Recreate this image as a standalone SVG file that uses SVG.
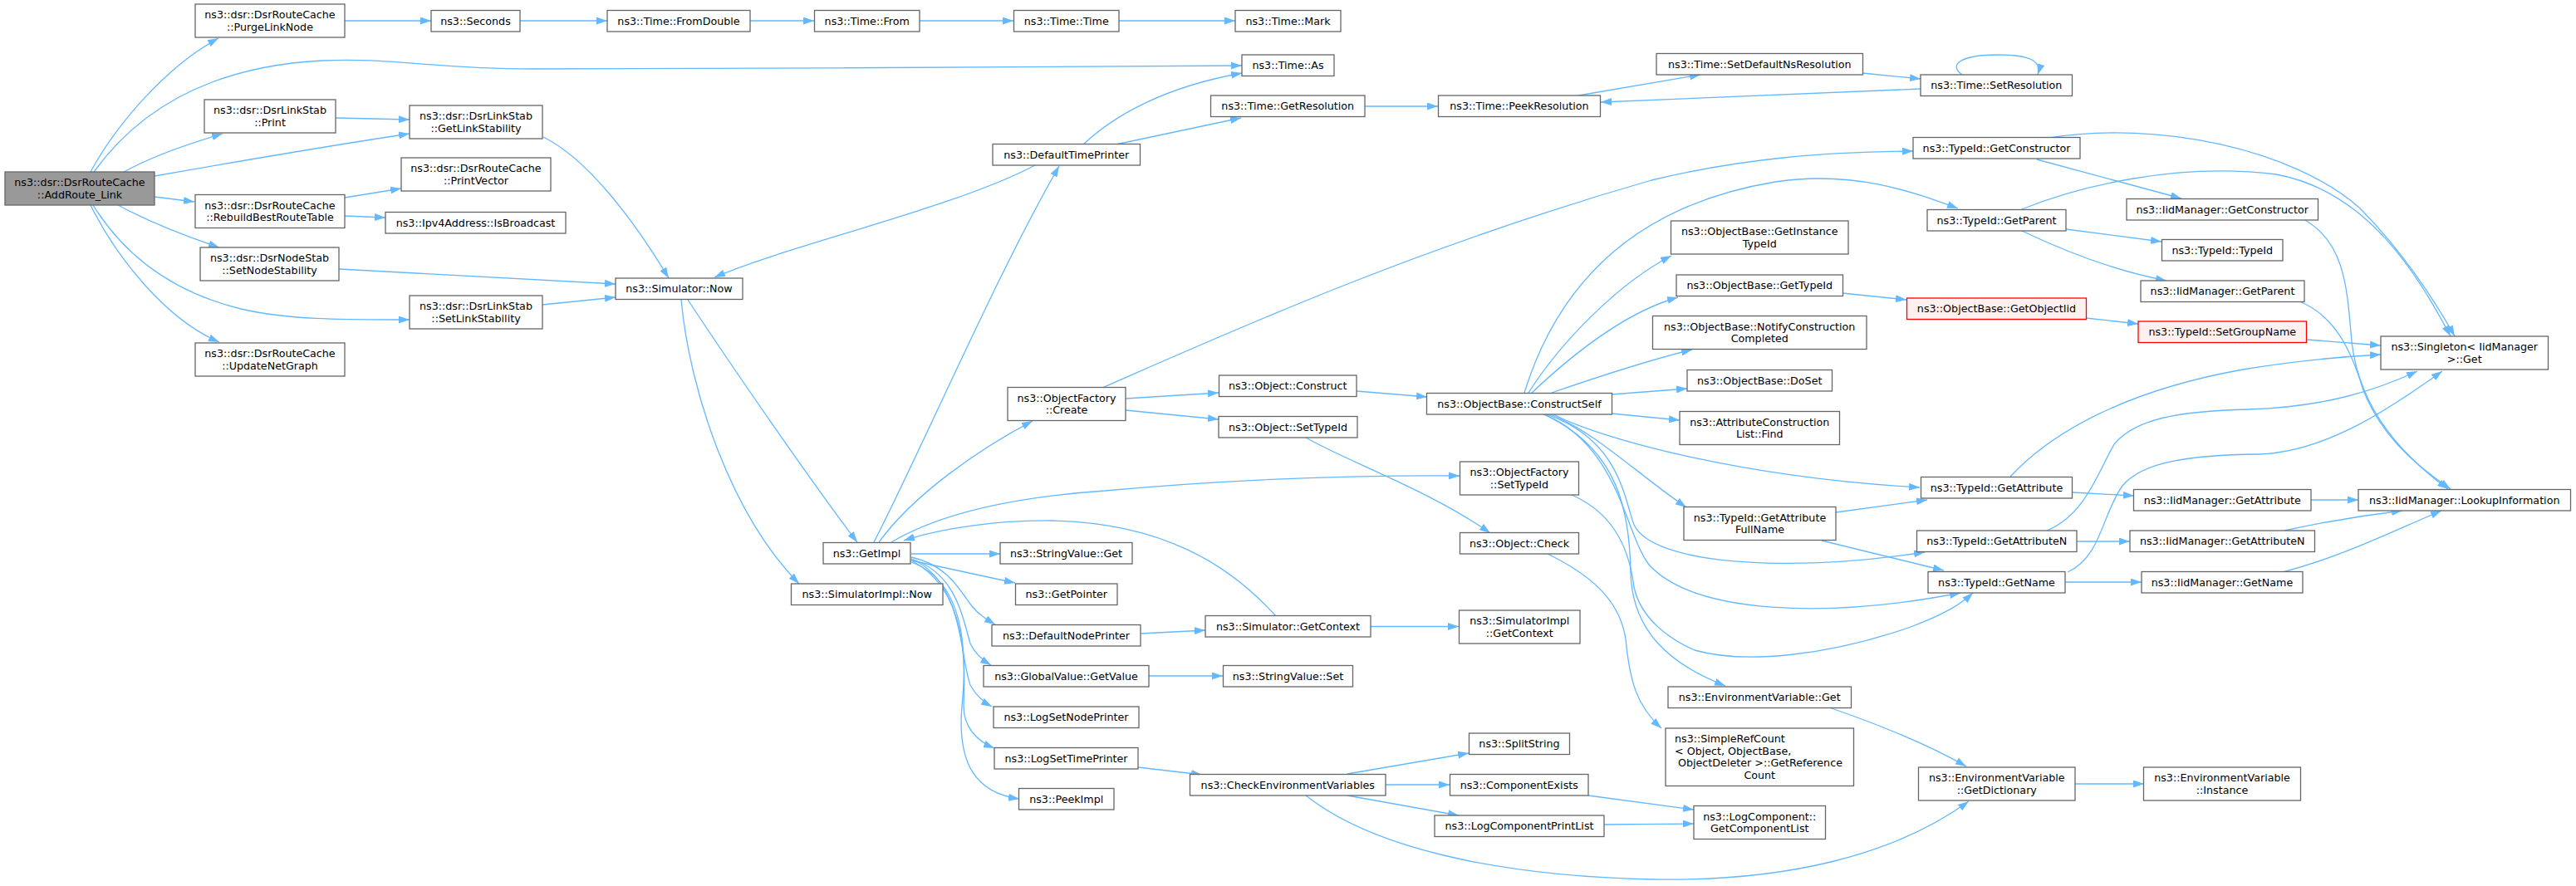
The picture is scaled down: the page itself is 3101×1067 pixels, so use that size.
<svg xmlns="http://www.w3.org/2000/svg" width="3101" height="1067" viewBox="0 0 3101 1067">
<defs>
<marker id="arr" viewBox="0 0 13 9" refX="13" refY="4.5" markerWidth="13" markerHeight="9" markerUnits="userSpaceOnUse" orient="auto">
<path d="M0,0 L13,4.5 L0,9 z" fill="#63b8ff"/>
</marker>
<style>
.node rect{fill:#ffffff;stroke:#666666;stroke-width:1.3}
.root rect{fill:#999999}
.red rect{fill:#fff0f0;stroke:#ff0000}
text{font-family:"DejaVu Sans",sans-serif;font-size:12.7px;text-anchor:middle;fill:#000000}
text.l{text-anchor:start}
#edges path{fill:none;stroke:#63b8ff;stroke-width:1.3;marker-end:url(#arr)}
</style>
</defs>
<rect width="3101" height="1067" fill="#ffffff"/>
<g id="edges">
<path d="M109,207 C140,150 200,80 263,46"/>
<path d="M113,207 C165,135 250,80 388,73 C470,69 520,83 640,83 C900,83 1300,80 1495,79"/>
<path d="M149,207 C180,190 220,175 268,161"/>
<path d="M186,212 C300,192 400,175 493,161"/>
<path d="M186,237 L234,243"/>
<path d="M142,247 C170,262 210,280 264,298"/>
<path d="M112,247 C145,300 200,350 290,372 C350,386 420,385 493,385"/>
<path d="M109,247 C140,310 200,385 264,412"/>
<path d="M404,142 L493,144"/>
<path d="M415,25 L519,25"/>
<path d="M626,25 L731,25"/>
<path d="M903,25 L980,25"/>
<path d="M1107,25 L1220,25"/>
<path d="M1347,25 L1487,25"/>
<path d="M654,165 C705,190 760,260 805,335"/>
<path d="M415,238 L483,227"/>
<path d="M415,260 L464,262"/>
<path d="M408,324 L741,342"/>
<path d="M653,367 L741,358"/>
<path d="M828,361 C880,440 980,585 1032,653"/>
<path d="M820,361 C830,470 880,620 962,703"/>
<path d="M1246,199 C1150,250 950,295 860,334"/>
<path d="M1052,653 C1110,540 1200,330 1275,200"/>
<path d="M1058,653 C1100,595 1180,540 1243,507"/>
<path d="M1073,653 C1120,625 1200,600 1330,591 C1450,580 1600,572 1757,573"/>
<path d="M1536,742 C1480,680 1400,630 1267,627 C1200,626 1130,637 1088,651"/>
<path d="M1097,667 L1204,667"/>
<path d="M1097,675 L1222,702"/>
<path d="M1097,671 C1140,680 1155,710 1170,730 C1178,740 1188,746 1198,752"/>
<path d="M1097,673 C1150,690 1158,740 1168,775 C1174,788 1183,795 1193,801"/>
<path d="M1097,673 C1160,700 1155,790 1168,825 C1175,838 1183,845 1194,851"/>
<path d="M1097,675 C1165,710 1162,800 1160,850 C1160,875 1175,892 1197,901"/>
<path d="M1097,677 C1160,700 1165,780 1158,850 C1152,920 1175,955 1227,962"/>
<path d="M1373,763 L1451,759"/>
<path d="M1383,814 L1472,814"/>
<path d="M1370,924 L1447,933"/>
<path d="M1650,754.5 L1756,754.5"/>
<path d="M1304,174 C1340,140 1400,105 1495,88"/>
<path d="M1343,174 L1494,142"/>
<path d="M1643,128 L1731,128"/>
<path d="M1355,480 L1467,473"/>
<path d="M1355,494 L1467,505"/>
<path d="M1327,467 C1480,400 1700,300 1988,217 C2100,190 2200,183 2303,182"/>
<path d="M1633,471 L1718,478"/>
<path d="M1572,527 C1620,555 1720,590 1794,642"/>
<path d="M1892,596 C1935,615 1960,650 1967,707 C1975,745 2010,770 2040,783 C2100,800 2200,790 2300,755 C2340,740 2360,728 2375,714"/>
<path d="M1863,667 C1910,690 1950,720 1957,770 C1962,820 1970,850 2000,877"/>
<path d="M1835,473 C1870,360 1950,250 2137,219 C2230,205 2300,230 2357,251"/>
<path d="M1840,473 C1880,410 1950,340 2012,308"/>
<path d="M1844,473 C1900,420 1960,375 2020,358"/>
<path d="M1868,473 C1920,455 1980,435 2037,421"/>
<path d="M1940,475 L2031,468"/>
<path d="M1940,498 L2022,506"/>
<path d="M1870,499 C1930,530 2100,575 2311,587"/>
<path d="M1866,499 C1920,520 1970,570 2030,611"/>
<path d="M1862,499 C1950,530 1955,600 1967,632 C1990,680 2150,690 2317,665"/>
<path d="M1860,499 C1950,540 1955,640 1985,680 C2040,740 2200,745 2360,714"/>
<path d="M1858,499 C1950,540 1962,620 1963,690 C1965,760 2010,800 2077,826"/>
<path d="M2218,353 L2295,361"/>
<path d="M2511,383 L2574,390"/>
<path d="M2452,192 L2626,239"/>
<path d="M2487,276 L2602,291"/>
<path d="M2434,278 C2480,300 2540,325 2608,338"/>
<path d="M2467,166 C2600,145 2760,180 2840,250 C2890,300 2930,360 2955,405"/>
<path d="M2434,252 C2500,225 2620,195 2740,210 C2850,230 2910,330 2950,405"/>
<path d="M2777,409 L2866,416"/>
<path d="M2420,574 C2470,520 2560,470 2700,445 C2760,435 2810,430 2866,427"/>
<path d="M2464,639 C2510,620 2525,570 2545,535 C2570,505 2620,495 2707,493 C2800,490 2860,470 2910,447"/>
<path d="M2489,689 C2530,670 2530,620 2555,585 C2580,555 2640,548 2718,547 C2800,545 2880,490 2940,447"/>
<path d="M2773,264 C2820,290 2825,340 2830,400 C2835,480 2880,540 2947,589"/>
<path d="M2768,363 C2810,380 2830,420 2845,470 C2865,520 2900,555 2950,589"/>
<path d="M2782,602 L2839,602"/>
<path d="M2750,639 C2800,628 2850,620 2892,615"/>
<path d="M2748,689 C2820,670 2880,640 2939,615"/>
<path d="M2210,617 L2320,602"/>
<path d="M2193,651 L2340,687"/>
<path d="M2495,593 L2569,597"/>
<path d="M2500,652 L2564,652"/>
<path d="M2486,701 L2578,701"/>
<path d="M1900,115 L2047,90"/>
<path d="M2242,88 L2312,95"/>
<path d="M2312,107 L1927,123"/>
<path d="M2362,90 C2345,78 2360,66 2405,66 C2445,66 2458,74 2453,90"/>
<path d="M2202,852 C2260,872 2320,896 2367,923"/>
<path d="M1572,958 C1650,1020 1800,1055 1988,1059 C2150,1062 2280,1030 2370,965"/>
<path d="M1622,932 L1768,907"/>
<path d="M1668,945 L1745,945"/>
<path d="M1622,958 L1756,982"/>
<path d="M1912,958 L2039,975"/>
<path d="M1931,993 L2039,992"/>
<path d="M2498,944 L2581,944"/>
</g>
<g id="n1" class="node root"><rect x="6" y="207" width="180" height="40"/><text x="96" y="224">ns3::dsr::DsrRouteCache</text><text x="96" y="238.6">::AddRoute_Link</text></g>
<g id="n2" class="node"><rect x="235" y="5" width="180" height="40"/><text x="325" y="22">ns3::dsr::DsrRouteCache</text><text x="325" y="36.6">::PurgeLinkNode</text></g>
<g id="n3" class="node"><rect x="246" y="120" width="158" height="40"/><text x="325" y="137">ns3::dsr::DsrLinkStab</text><text x="325" y="151.6">::Print</text></g>
<g id="n4" class="node"><rect x="235" y="234.5" width="180" height="40"/><text x="325" y="251.5">ns3::dsr::DsrRouteCache</text><text x="325" y="266.1">::RebuildBestRouteTable</text></g>
<g id="n5" class="node"><rect x="241" y="298" width="167" height="40"/><text x="324.5" y="315">ns3::dsr::DsrNodeStab</text><text x="324.5" y="329.6">::SetNodeStability</text></g>
<g id="n6" class="node"><rect x="235" y="413" width="180" height="40"/><text x="325" y="430">ns3::dsr::DsrRouteCache</text><text x="325" y="444.6">::UpdateNetGraph</text></g>
<g id="n7" class="node"><rect x="519" y="12.5" width="107" height="25.5"/><text x="572.5" y="29.7">ns3::Seconds</text></g>
<g id="n8" class="node"><rect x="493" y="127" width="160" height="40"/><text x="573" y="144">ns3::dsr::DsrLinkStab</text><text x="573" y="158.6">::GetLinkStability</text></g>
<g id="n9" class="node"><rect x="483" y="190" width="180" height="40"/><text x="573" y="207">ns3::dsr::DsrRouteCache</text><text x="573" y="221.6">::PrintVector</text></g>
<g id="n10" class="node"><rect x="464" y="255.5" width="217" height="25.5"/><text x="572.5" y="272.7">ns3::Ipv4Address::IsBroadcast</text></g>
<g id="n11" class="node"><rect x="493" y="356" width="160" height="40"/><text x="573" y="373">ns3::dsr::DsrLinkStab</text><text x="573" y="387.6">::SetLinkStability</text></g>
<g id="n12" class="node"><rect x="731" y="12.5" width="172" height="25.5"/><text x="817" y="29.7">ns3::Time::FromDouble</text></g>
<g id="n13" class="node"><rect x="741" y="335" width="153" height="25.5"/><text x="817.5" y="352.2">ns3::Simulator::Now</text></g>
<g id="n14" class="node"><rect x="980.5" y="12.5" width="126.5" height="25.5"/><text x="1043.75" y="29.7">ns3::Time::From</text></g>
<g id="n15" class="node"><rect x="991" y="653.5" width="105" height="25.5"/><text x="1043.5" y="670.7">ns3::GetImpl</text></g>
<g id="n16" class="node"><rect x="952.5" y="703" width="182.5" height="25.5"/><text x="1043.75" y="720.2">ns3::SimulatorImpl::Now</text></g>
<g id="n17" class="node"><rect x="1220.5" y="12.5" width="126.5" height="25.5"/><text x="1283.75" y="29.7">ns3::Time::Time</text></g>
<g id="n18" class="node"><rect x="1195" y="173.5" width="177.5" height="25.5"/><text x="1283.75" y="190.7">ns3::DefaultTimePrinter</text></g>
<g id="n19" class="node"><rect x="1213" y="466.5" width="142" height="40"/><text x="1284" y="483.5">ns3::ObjectFactory</text><text x="1284" y="498.1">::Create</text></g>
<g id="n20" class="node"><rect x="1204" y="653.5" width="159" height="25.5"/><text x="1283.5" y="670.7">ns3::StringValue::Get</text></g>
<g id="n21" class="node"><rect x="1222.5" y="703" width="122.5" height="25.5"/><text x="1283.75" y="720.2">ns3::GetPointer</text></g>
<g id="n22" class="node"><rect x="1194" y="752.5" width="179" height="25.5"/><text x="1283.5" y="769.7">ns3::DefaultNodePrinter</text></g>
<g id="n23" class="node"><rect x="1184" y="801.5" width="199" height="25.5"/><text x="1283.5" y="818.7">ns3::GlobalValue::GetValue</text></g>
<g id="n24" class="node"><rect x="1196" y="851" width="175" height="25.5"/><text x="1283.5" y="868.2">ns3::LogSetNodePrinter</text></g>
<g id="n25" class="node"><rect x="1197" y="900.5" width="173" height="25.5"/><text x="1283.5" y="917.7">ns3::LogSetTimePrinter</text></g>
<g id="n26" class="node"><rect x="1226.5" y="949.5" width="114.5" height="25.5"/><text x="1283.75" y="966.7">ns3::PeekImpl</text></g>
<g id="n27" class="node"><rect x="1487" y="12.5" width="127" height="25.5"/><text x="1550.5" y="29.7">ns3::Time::Mark</text></g>
<g id="n28" class="node"><rect x="1495" y="66" width="111" height="25.5"/><text x="1550.5" y="83.2">ns3::Time::As</text></g>
<g id="n29" class="node"><rect x="1457.5" y="115" width="185.5" height="25.5"/><text x="1550.25" y="132.2">ns3::Time::GetResolution</text></g>
<g id="n30" class="node"><rect x="1467.5" y="452" width="165.5" height="25.5"/><text x="1550.25" y="469.2">ns3::Object::Construct</text></g>
<g id="n31" class="node"><rect x="1467" y="501.5" width="167" height="25.5"/><text x="1550.5" y="518.7">ns3::Object::SetTypeId</text></g>
<g id="n32" class="node"><rect x="1451" y="741.5" width="199" height="25.5"/><text x="1550.5" y="758.7">ns3::Simulator::GetContext</text></g>
<g id="n33" class="node"><rect x="1472.5" y="801.5" width="156" height="25.5"/><text x="1550.5" y="818.7">ns3::StringValue::Set</text></g>
<g id="n34" class="node"><rect x="1432.5" y="932.5" width="235.5" height="25.5"/><text x="1550.25" y="949.7">ns3::CheckEnvironmentVariables</text></g>
<g id="n35" class="node"><rect x="1731.5" y="115" width="195" height="25.5"/><text x="1829" y="132.2">ns3::Time::PeekResolution</text></g>
<g id="n36" class="node"><rect x="1717.5" y="473.5" width="223" height="25.5"/><text x="1829" y="490.7">ns3::ObjectBase::ConstructSelf</text></g>
<g id="n37" class="node"><rect x="1757.5" y="556" width="143" height="40"/><text x="1829" y="573">ns3::ObjectFactory</text><text x="1829" y="587.6">::SetTypeId</text></g>
<g id="n38" class="node"><rect x="1757.5" y="641.5" width="143" height="25.5"/><text x="1829" y="658.7">ns3::Object::Check</text></g>
<g id="n39" class="node"><rect x="1756.5" y="735" width="145.5" height="40"/><text x="1829.25" y="752">ns3::SimulatorImpl</text><text x="1829.25" y="766.6">::GetContext</text></g>
<g id="n40" class="node"><rect x="1768.5" y="883" width="121" height="25.5"/><text x="1829" y="900.2">ns3::SplitString</text></g>
<g id="n41" class="node"><rect x="1745.5" y="932.5" width="166.5" height="25.5"/><text x="1828.75" y="949.7">ns3::ComponentExists</text></g>
<g id="n42" class="node"><rect x="1727" y="982" width="204" height="25.5"/><text x="1829" y="999.2">ns3::LogComponentPrintList</text></g>
<g id="n43" class="node"><rect x="1994" y="64.5" width="248.5" height="25.5"/><text x="2118.25" y="81.7">ns3::Time::SetDefaultNsResolution</text></g>
<g id="n44" class="node"><rect x="2011.5" y="266" width="213.5" height="40"/><text x="2118.25" y="283">ns3::ObjectBase::GetInstance</text><text x="2118.25" y="297.6">TypeId</text></g>
<g id="n45" class="node"><rect x="2018" y="331" width="200.5" height="25.5"/><text x="2118.25" y="348.2">ns3::ObjectBase::GetTypeId</text></g>
<g id="n46" class="node"><rect x="1989.5" y="380.5" width="257.5" height="40"/><text x="2118.25" y="397.5">ns3::ObjectBase::NotifyConstruction</text><text x="2118.25" y="412.1">Completed</text></g>
<g id="n47" class="node"><rect x="2031" y="445.5" width="174.5" height="25.5"/><text x="2118.25" y="462.7">ns3::ObjectBase::DoSet</text></g>
<g id="n48" class="node"><rect x="2022" y="495.5" width="192.5" height="40"/><text x="2118.25" y="512.5">ns3::AttributeConstruction</text><text x="2118.25" y="527.1">List::Find</text></g>
<g id="n49" class="node"><rect x="2027" y="610.5" width="183" height="40"/><text x="2118.5" y="627.5">ns3::TypeId::GetAttribute</text><text x="2118.5" y="642.1">FullName</text></g>
<g id="n50" class="node"><rect x="2008" y="827" width="220.5" height="25.5"/><text x="2118.25" y="844.2">ns3::EnvironmentVariable::Get</text></g>
<g id="n51" class="node"><rect x="2005" y="877" width="226.5" height="69.5"/><text class="l" x="2016" y="894">ns3::SimpleRefCount</text><text class="l" x="2016" y="908.6">&lt; Object, ObjectBase,</text><text class="l" x="2020" y="923.2">ObjectDeleter &gt;::GetReference</text><text x="2118.25" y="937.8">Count</text></g>
<g id="n52" class="node"><rect x="2039" y="970.5" width="158.5" height="40"/><text x="2118.25" y="987.5">ns3::LogComponent::</text><text x="2118.25" y="1002.1">GetComponentList</text></g>
<g id="n53" class="node"><rect x="2312" y="90" width="182.5" height="25.5"/><text x="2403.25" y="107.2">ns3::Time::SetResolution</text></g>
<g id="n54" class="node"><rect x="2303" y="165.5" width="201" height="25.5"/><text x="2403.5" y="182.7">ns3::TypeId::GetConstructor</text></g>
<g id="n55" class="node"><rect x="2320" y="252.5" width="167" height="25.5"/><text x="2403.5" y="269.7">ns3::TypeId::GetParent</text></g>
<g id="n56" class="node red"><rect x="2295.5" y="359" width="216" height="25.5"/><text x="2403.5" y="376.2">ns3::ObjectBase::GetObjectIid</text></g>
<g id="n57" class="node"><rect x="2312.5" y="574.5" width="182" height="25.5"/><text x="2403.5" y="591.7">ns3::TypeId::GetAttribute</text></g>
<g id="n58" class="node"><rect x="2307.5" y="639" width="192.5" height="25.5"/><text x="2403.75" y="656.2">ns3::TypeId::GetAttributeN</text></g>
<g id="n59" class="node"><rect x="2321" y="688.5" width="165" height="25.5"/><text x="2403.5" y="705.7">ns3::TypeId::GetName</text></g>
<g id="n60" class="node"><rect x="2309.5" y="924" width="188.5" height="40"/><text x="2403.75" y="941">ns3::EnvironmentVariable</text><text x="2403.75" y="955.6">::GetDictionary</text></g>
<g id="n61" class="node"><rect x="2560" y="239.5" width="230.5" height="25.5"/><text x="2675.25" y="256.7">ns3::IidManager::GetConstructor</text></g>
<g id="n62" class="node"><rect x="2602.5" y="288.5" width="145.5" height="25.5"/><text x="2675.25" y="305.7">ns3::TypeId::TypeId</text></g>
<g id="n63" class="node"><rect x="2577" y="338" width="197" height="25.5"/><text x="2675.5" y="355.2">ns3::IidManager::GetParent</text></g>
<g id="n64" class="node red"><rect x="2574" y="387" width="202.5" height="25.5"/><text x="2675.25" y="404.2">ns3::TypeId::SetGroupName</text></g>
<g id="n65" class="node"><rect x="2568.5" y="589.5" width="213.5" height="25.5"/><text x="2675.25" y="606.7">ns3::IidManager::GetAttribute</text></g>
<g id="n66" class="node"><rect x="2564" y="639" width="222.5" height="25.5"/><text x="2675.25" y="656.2">ns3::IidManager::GetAttributeN</text></g>
<g id="n67" class="node"><rect x="2578" y="688.5" width="194" height="25.5"/><text x="2675" y="705.7">ns3::IidManager::GetName</text></g>
<g id="n68" class="node"><rect x="2580.5" y="924" width="189" height="40"/><text x="2675" y="941">ns3::EnvironmentVariable</text><text x="2675" y="955.6">::Instance</text></g>
<g id="n69" class="node"><rect x="2866" y="405" width="201.5" height="40"/><text x="2966.75" y="422">ns3::Singleton&lt; IidManager</text><text x="2966.75" y="436.6">&gt;::Get</text></g>
<g id="n70" class="node"><rect x="2839" y="589.5" width="255.5" height="25.5"/><text x="2966.75" y="606.7">ns3::IidManager::LookupInformation</text></g>
</svg>
